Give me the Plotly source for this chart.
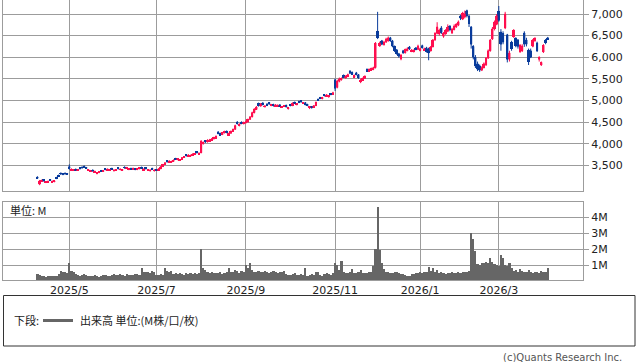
import pandas as pd
import plotly.graph_objects as go

# ---------------- data ----------------
holidays = ["2025-04-29", "2025-05-05", "2025-05-06", "2025-07-21", "2025-08-11",
            "2025-09-15", "2025-09-23", "2025-10-13", "2025-11-03", "2025-11-24",
            "2025-12-31", "2026-01-01", "2026-01-02", "2026-01-12", "2026-02-11",
            "2026-02-23", "2026-03-20"]
dates = [d for d in pd.bdate_range("2025-04-09", "2026-04-03")
         if d.strftime("%Y-%m-%d") not in holidays]

opens = [
    3230, 3060, 3130, 3160, 3100, 3110, 3170, 3110, 3120, 3220,
    3270, 3320, 3310, 3320, 3310, 3470, 3390, 3385, 3410, 3380,
    3440, 3460, 3480, 3450, 3380, 3360, 3390, 3340, 3310, 3330,
    3380, 3360, 3420, 3390, 3385, 3430, 3370, 3385, 3440, 3395,
    3385, 3460, 3430, 3400, 3430, 3410, 3420, 3400, 3420, 3450,
    3390, 3440, 3380, 3370, 3430, 3370, 3400, 3380, 3420, 3470,
    3520, 3600, 3570, 3570, 3590, 3660, 3630, 3610, 3640, 3680,
    3740, 3710, 3710, 3730, 3750, 3810, 3760, 3790, 4000, 4070,
    4040, 4060, 4080, 4110, 4130, 4270, 4240, 4210, 4250, 4290,
    4200, 4240, 4290, 4330, 4500, 4420, 4500, 4460, 4480, 4500,
    4560, 4620, 4720, 4790, 4930, 4870, 4940, 4850, 4920, 4950,
    4880, 4910, 4870, 4870, 4900, 4840, 4860, 4890, 4810, 4900,
    4880, 4960, 4900, 4980, 4990, 4930, 4950, 4910, 4830, 4860,
    4840, 4880, 5030, 5070, 5040, 5130, 5100, 5080, 5160, 5140,
    5480, 5300, 5440, 5480, 5580, 5530, 5560, 5680, 5650, 5540,
    5640, 5600, 5430, 5470, 5510, 5720, 5680, 5700, 5720, 5760,
    6600, 6260, 6380, 6290, 6350, 6380, 6450, 6380, 6250, 6170,
    6080, 5960, 6150, 6100, 6150, 6240, 6130, 6130, 6220, 6180,
    6150, 6270, 6160, 6220, 6200, 6150, 6240, 6400, 6550, 6540,
    6680, 6480, 6540, 6600, 6720, 6560, 6640, 6700, 6740, 6960,
    6880, 6930, 7080, 6950, 6700, 6250, 6000, 5850, 5800, 5700,
    5760, 5820, 5980, 6150, 6420, 6660, 6760, 7060, 6580, 6550,
    6680, 6520, 5950, 6350, 6470, 6440, 6400, 6130, 6150, 6560,
    6400, 6170, 6150, 6250, 6380, 6330, 5950, 5820, 6120, 6400,
    6450]
highs = [
    3240, 3160, 3165, 3170, 3130, 3140, 3180, 3140, 3150, 3230,
    3280, 3330, 3320, 3330, 3320, 3520, 3420, 3410, 3420, 3410,
    3450, 3470, 3490, 3460, 3410, 3390, 3400, 3370, 3340, 3360,
    3390, 3390, 3430, 3420, 3410, 3440, 3400, 3410, 3450, 3420,
    3410, 3470, 3460, 3430, 3440, 3440, 3430, 3430, 3450, 3470,
    3420, 3450, 3410, 3400, 3440, 3400, 3410, 3430, 3480, 3530,
    3570, 3620, 3610, 3600, 3630, 3670, 3660, 3640, 3690, 3710,
    3750, 3750, 3740, 3770, 3780, 3820, 3790, 4080, 4050, 4080,
    4100, 4110, 4130, 4160, 4190, 4290, 4250, 4270, 4300, 4300,
    4250, 4300, 4350, 4440, 4520, 4470, 4510, 4510, 4530, 4580,
    4640, 4740, 4820, 4870, 4950, 4940, 4960, 4890, 4930, 4960,
    4920, 4920, 4910, 4900, 4910, 4870, 4890, 4900, 4840, 4910,
    4950, 4970, 4930, 4990, 5000, 4960, 4960, 4920, 4870, 4870,
    4890, 4970, 5040, 5080, 5080, 5140, 5140, 5120, 5170, 5200,
    5500, 5480, 5530, 5530, 5600, 5580, 5620, 5700, 5670, 5600,
    5660, 5610, 5500, 5530, 5580, 5740, 5740, 5760, 5780, 6350,
    7050, 6360, 6400, 6380, 6450, 6480, 6470, 6400, 6270, 6190,
    6100, 6070, 6170, 6200, 6230, 6260, 6190, 6180, 6230, 6290,
    6220, 6290, 6220, 6240, 6220, 6260, 6420, 6580, 6810, 6660,
    6720, 6580, 6650, 6760, 6740, 6680, 6760, 6790, 6850, 6980,
    7050, 7080, 7100, 6980, 6720, 6280, 6050, 5900, 5830, 5790,
    5880, 6000, 6180, 6420, 6700, 6850, 7000, 7185, 6650, 6600,
    7050, 6540, 6150, 6380, 6650, 6460, 6420, 6300, 6300, 6600,
    6450, 6200, 6200, 6420, 6460, 6360, 6020, 5900, 6300, 6420,
    6470]
lows = [
    3190, 3040, 3120, 3130, 3090, 3100, 3140, 3100, 3110, 3180,
    3240, 3280, 3270, 3290, 3280, 3400, 3380, 3370, 3380, 3370,
    3410, 3430, 3450, 3420, 3370, 3350, 3360, 3330, 3290, 3320,
    3350, 3350, 3390, 3380, 3375, 3400, 3360, 3380, 3410, 3390,
    3380, 3430, 3420, 3390, 3400, 3400, 3390, 3390, 3410, 3420,
    3380, 3410, 3370, 3360, 3400, 3360, 3370, 3370, 3410, 3460,
    3510, 3570, 3560, 3560, 3580, 3630, 3620, 3600, 3630, 3670,
    3710, 3700, 3700, 3720, 3740, 3780, 3750, 3780, 3980, 4020,
    4030, 4050, 4070, 4100, 4120, 4220, 4180, 4200, 4240, 4240,
    4180, 4230, 4280, 4320, 4440, 4400, 4450, 4450, 4470, 4490,
    4550, 4610, 4700, 4780, 4860, 4860, 4890, 4840, 4870, 4900,
    4870, 4860, 4860, 4860, 4860, 4830, 4850, 4840, 4790, 4870,
    4870, 4920, 4890, 4940, 4950, 4920, 4890, 4870, 4800, 4810,
    4830, 4870, 4990, 5030, 5030, 5100, 5090, 5070, 5120, 5130,
    5220, 5280, 5420, 5460, 5520, 5500, 5540, 5610, 5590, 5530,
    5580, 5500, 5400, 5460, 5500, 5660, 5670, 5690, 5700, 5740,
    6420, 6240, 6280, 6270, 6330, 6360, 6360, 6230, 6120, 6060,
    5990, 5930, 6080, 6090, 6140, 6170, 6120, 6110, 6160, 6170,
    6140, 6200, 6150, 6110, 5930, 6130, 6230, 6380, 6530, 6500,
    6540, 6450, 6520, 6580, 6600, 6540, 6620, 6680, 6720, 6860,
    6860, 6900, 6920, 6700, 6200, 5950, 5750, 5680, 5660, 5680,
    5740, 5800, 5960, 6130, 6400, 6620, 6740, 6820, 6150, 6300,
    6650, 5880, 5900, 6150, 6450, 6230, 6200, 6100, 6120, 6240,
    6250, 5820, 5980, 6230, 6360, 6120, 5900, 5800, 6100, 6300,
    6400]
closes = [
    3200, 3140, 3150, 3140, 3120, 3130, 3150, 3130, 3140, 3200,
    3250, 3300, 3290, 3300, 3295, 3430, 3410, 3400, 3390, 3400,
    3420, 3440, 3460, 3430, 3400, 3380, 3370, 3360, 3330, 3350,
    3360, 3380, 3400, 3410, 3400, 3410, 3390, 3400, 3420, 3410,
    3400, 3440, 3450, 3420, 3410, 3430, 3400, 3420, 3440, 3430,
    3410, 3420, 3400, 3390, 3410, 3390, 3380, 3420, 3470, 3520,
    3560, 3580, 3600, 3590, 3620, 3640, 3650, 3630, 3680, 3700,
    3720, 3740, 3730, 3760, 3770, 3790, 3780, 4060, 4030, 4040,
    4080, 4090, 4110, 4140, 4170, 4230, 4200, 4260, 4280, 4260,
    4240, 4290, 4330, 4420, 4470, 4450, 4470, 4490, 4500, 4560,
    4620, 4720, 4800, 4850, 4880, 4920, 4900, 4870, 4890, 4920,
    4900, 4880, 4900, 4890, 4870, 4860, 4880, 4850, 4830, 4880,
    4940, 4930, 4920, 4950, 4970, 4950, 4900, 4880, 4860, 4840,
    4880, 4960, 5010, 5050, 5070, 5110, 5130, 5110, 5140, 5180,
    5280, 5450, 5500, 5510, 5540, 5560, 5600, 5630, 5610, 5580,
    5600, 5520, 5470, 5510, 5560, 5680, 5720, 5740, 5760, 6330,
    6450, 6330, 6300, 6350, 6420, 6450, 6380, 6250, 6150, 6080,
    6020, 6050, 6100, 6180, 6200, 6190, 6170, 6160, 6180, 6260,
    6200, 6220, 6200, 6130, 6100, 6240, 6400, 6550, 6700, 6620,
    6570, 6560, 6620, 6700, 6640, 6650, 6720, 6760, 6820, 6900,
    7020, 7000, 6960, 6780, 6300, 6000, 5800, 5720, 5700, 5760,
    5850, 5980, 6150, 6400, 6660, 6820, 6960, 6850, 6300, 6350,
    7000, 5950, 6100, 6200, 6620, 6260, 6250, 6280, 6260, 6300,
    6300, 5900, 6000, 6400, 6440, 6150, 6000, 5880, 6280, 6340,
    6420]
volumes_m = [
    0.42, 0.40, 0.33, 0.30, 0.28, 0.32, 0.30, 0.35, 0.30, 0.33,
    0.45, 0.63, 0.55, 0.60, 0.50, 1.15, 0.63, 0.55, 0.45, 0.40,
    0.35, 0.38, 0.45, 0.40, 0.35, 0.30, 0.33, 0.38, 0.30, 0.28,
    0.35, 0.40, 0.36, 0.30, 0.33, 0.38, 0.42, 0.40, 0.36, 0.45,
    0.40, 0.35, 0.42, 0.38, 0.40, 0.36, 0.42, 0.45, 0.38, 0.80,
    0.55, 0.60, 0.58, 0.50, 0.62, 0.55, 0.40, 0.38, 0.42, 0.40,
    0.83, 0.62, 0.55, 0.65, 0.45, 0.50, 0.42, 0.48, 0.45, 0.40,
    0.50, 0.45, 0.48, 0.42, 0.50, 0.45, 0.52, 2.00, 0.85, 0.70,
    0.55, 0.50, 0.60, 0.48, 0.52, 0.50, 0.55, 0.45, 0.50, 0.55,
    0.85, 0.60, 0.55, 0.70, 0.62, 0.50, 0.65, 0.55, 1.00, 0.80,
    1.10, 0.70, 0.60, 0.55, 0.65, 0.60, 0.58, 0.62, 0.55, 0.50,
    0.60, 0.65, 0.58, 0.52, 0.60, 0.55, 0.62, 0.45, 0.40, 0.38,
    0.42, 0.48, 0.40, 0.38, 0.42, 0.40, 0.80, 0.35, 0.40, 0.45,
    0.38, 0.55, 0.60, 0.40, 0.35, 0.42, 0.50, 0.45, 0.40, 0.48,
    1.10, 1.00, 0.70, 1.25, 0.55, 0.50, 0.48, 0.60, 0.75, 0.52,
    0.50, 0.55, 0.70, 0.48, 0.52, 0.50, 0.55, 0.60, 0.95, 2.00,
    4.62, 1.97, 1.15, 0.73, 0.55, 0.60, 0.50, 0.48, 0.55, 0.60,
    0.52, 0.45, 0.42, 0.40, 0.35, 0.30, 0.42, 0.45, 0.50, 0.48,
    0.55, 0.52, 0.55, 0.60, 0.87, 0.65, 0.83, 0.60, 0.72, 0.50,
    0.55, 0.48, 0.45, 0.52, 0.50, 0.55, 0.48, 0.52, 0.55, 0.50,
    0.58, 0.55, 0.60, 0.65, 3.00, 2.65, 1.87, 1.04, 1.00, 1.10,
    1.10, 1.20, 1.10, 1.45, 1.20, 1.05, 1.00, 0.95, 1.60, 1.45,
    1.00, 0.95, 1.15, 0.80, 0.65, 0.70, 0.60, 0.75, 0.62, 0.55,
    0.60, 0.70, 0.55, 0.50, 0.55, 0.60, 0.50, 0.65, 0.55, 0.60,
    0.85]

price_ticks = [3500, 4000, 4500, 5000, 5500, 6000, 6500, 7000]
volume_ticks = [1, 2, 3, 4]
volume_tick_labels = ["1M", "2M", "3M", "4M"]
tick_months = [5, 7, 9, 11, 1, 3]

# ---------------- derived ----------------
n = len(dates)
assert all(len(a) == n for a in (opens, highs, lows, closes, volumes_m)), n
xs = list(range(n))
tickvals, ticktext = [], []
seen = set()
for i, d in enumerate(dates):
    key = (d.year, d.month)
    if d.month in tick_months and key not in seen:
        seen.add(key)
        tickvals.append(i)
        ticktext.append(f"{d.year}/{d.month}")

RED = "#ff1050"
BLUE = "#0a3c9c"
GRID = "#9c9c9c"
TXT = "#222222"
NUMFONT = "DejaVu Sans"
JPFONT = "Noto Sans CJK JP"

W, H = 638, 362
ML, MR, MT, MB = 3, 55, 0, 82
PW, PH = W - ML - MR, H - MT - MB


def px_x(x):
    return (x - ML) / PW


def px_y(y):
    return (H - MB - y) / PH


body_base = [min(o, c) for o, c in zip(opens, closes)]
body_len = [max(abs(c - o), 8) for o, c in zip(opens, closes)]
body_col = [RED if c >= o else BLUE for o, c in zip(opens, closes)]

fig = go.Figure()
fig.add_trace(go.Candlestick(
    x=xs, open=opens, high=highs, low=lows, close=closes,
    increasing=dict(line=dict(color=RED, width=1), fillcolor=RED),
    decreasing=dict(line=dict(color=BLUE, width=1), fillcolor=BLUE),
    whiskerwidth=0, xaxis="x", yaxis="y", showlegend=False, hoverinfo="skip",
))
fig.add_trace(go.Bar(
    x=xs, y=body_len, base=body_base, width=0.9,
    marker=dict(color=body_col, line=dict(width=0)),
    xaxis="x", yaxis="y", showlegend=False, hoverinfo="skip",
))
fig.add_trace(go.Bar(
    x=xs, y=volumes_m, marker=dict(color="#666666", line=dict(width=0)),
    xaxis="x2", yaxis="y2", showlegend=False, hoverinfo="skip",
))

xr = [-16.2, 256.6]
common_x = dict(range=xr, tickvals=tickvals, showgrid=True, gridcolor=GRID,
                gridwidth=1, showline=True, linecolor=GRID, linewidth=1,
                mirror=True, zeroline=False, ticks="", fixedrange=True)
fig.update_layout(
    width=W, height=H,
    margin=dict(l=ML, r=MR, t=MT, b=MB),
    paper_bgcolor="white", plot_bgcolor="white",
    bargap=0,
    xaxis=dict(**common_x, showticklabels=False, anchor="y",
               rangeslider=dict(visible=False)),
    xaxis2=dict(**common_x, ticktext=ticktext, showticklabels=True, anchor="y2",
                tickfont=dict(family=NUMFONT, size=11, color=TXT)),
    yaxis=dict(domain=[px_y(190.7), 1], range=[2912, 7324], side="right",
               tickvals=price_ticks, tickformat=",", showgrid=True,
               gridcolor=GRID, showline=True, linecolor=GRID, mirror=True,
               zeroline=False, ticks="outside", ticklen=5, tickcolor=GRID,
               tickfont=dict(family=NUMFONT, size=11, color=TXT), anchor="x"),
    yaxis2=dict(domain=[0, px_y(202.3)], range=[0.09, 4.93], side="right",
                tickvals=volume_ticks, ticktext=volume_tick_labels,
                showgrid=True, gridcolor=GRID, showline=True, linecolor=GRID,
                mirror=True, zeroline=False, ticks="outside", ticklen=5,
                tickcolor=GRID,
                tickfont=dict(family=NUMFONT, size=11, color=TXT), anchor="x2"),
    shapes=[
        dict(type="rect", xref="paper", yref="paper",
             x0=px_x(3.5), x1=px_x(635), y0=px_y(346), y1=px_y(295.5),
             line=dict(color="#333333", width=1)),
        dict(type="line", xref="paper", yref="paper",
             x0=px_x(43), x1=px_x(73), y0=px_y(320.5), y1=px_y(320.5),
             line=dict(color="#666666", width=3)),
    ],
    annotations=[
        dict(text="単位: M", xref="paper", yref="paper", x=px_x(8), y=px_y(210),
             xanchor="left", yanchor="middle", showarrow=False,
             font=dict(family=JPFONT, size=11, color=TXT)),
        dict(text="下段:", xref="paper", yref="paper", x=px_x(12), y=px_y(320),
             xanchor="left", yanchor="middle", showarrow=False,
             font=dict(family=JPFONT, size=11, color=TXT)),
        dict(text="出来高 単位:(M株/口/枚)", xref="paper", yref="paper",
             x=px_x(78), y=px_y(320), xanchor="left", yanchor="middle",
             showarrow=False, font=dict(family=JPFONT, size=11, color=TXT)),
        dict(text="(c)Quants Research Inc.", xref="paper", yref="paper",
             x=px_x(624), y=px_y(357), xanchor="right", yanchor="middle",
             showarrow=False, font=dict(family=NUMFONT, size=10, color="#555555")),
    ],
)

fig.write_html("out.html")
